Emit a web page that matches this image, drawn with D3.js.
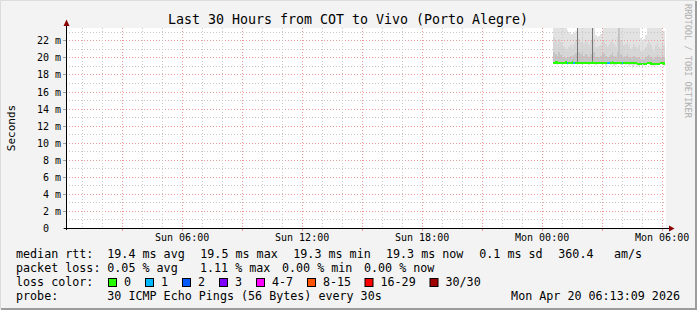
<!DOCTYPE html>
<html>
<head>
<meta charset="utf-8">
<script src="https://cdn.jsdelivr.net/npm/d3@7"></script>
<style>
  body { margin: 0; background: #f3f3f3; }
  svg text { font-family: "DejaVu Sans Mono", monospace; white-space: pre; }
</style>
</head>
<body>
<svg id="chart" width="697" height="310"></svg>
<script>
// ---- data ----
const title = "Last 30 Hours from COT to Vivo (Porto Alegre)";
const yTicks = [0, 2, 4, 6, 8, 10, 12, 14, 16, 18, 20, 22];
const timeLabels = ["Sun 06:00", "Sun 12:00", "Sun 18:00", "Mon 00:00", "Mon 06:00"];

// 5 minute samples, first one Mon 00:35
const median = [19.40,19.42,19.42,19.40,19.40,19.38,19.40,19.42,19.40,19.38,19.40,19.42,19.40,19.40,
  19.38,19.40,19.40,19.42,19.40,19.40,19.38,19.40,19.40,19.42,19.40,19.38,19.40,19.40,
  19.40,19.42,19.40,19.38,19.38,19.40,19.40,19.42,19.40,19.40,19.38,19.40,19.40,19.38,
  19.40,19.40,19.38,19.40,19.40,19.38,19.36,19.36,19.28,19.26,19.25,19.26,19.25,19.28,
  19.34,19.35,19.32,19.25,19.24,19.25,19.26,19.24,19.34,19.35,19.30];
const loss = [0,0,0,0,0,0,0,0,1,0,0,0,1,0,0,0,0,0,0,0,0,0,0,0,0,0,0,0,0,0,0,0,1,1,0,0,0,0,0,0,0,1,
  0,0,0,0,0,0,0,0,0,0,0,0,0,0,0,0,0,0,0,0,0,0,0,0,0];
const pingLo = [19.2,19.2,19.1,19.2,19.2,19.1,19.2,19.2,19.1,19.2,19.2,19.1,19.2,19.2,
  19.1,19.2,19.2,19.1,19.2,19.2,19.2,19.1,19.2,19.2,19.2,19.1,19.2,19.2,
  19.2,19.1,19.2,19.0,19.2,19.2,19.1,19.2,19.0,19.1,19.2,19.2,19.1,19.2,
  19.2,19.1,19.2,19.0,19.1,18.8,19.0,19.1,19.0,19.0,19.1,19.0,19.1,19.1,
  19.2,19.2,19.1,19.1,19.0,19.1,19.1,19.1,19.2,19.2,19.1];
const pingHi = [23.5,23.5,23.5,23.5,23.5,23.5,23.5,23.5,23.2,23.0,22.8,22.7,22.9,23.1,
  23.5,23.5,23.5,23.5,23.5,23.5,23.5,23.5,23.5,23.5,23.5,22.6,22.4,22.5,
  22.7,23.0,23.5,23.5,23.5,23.5,23.5,23.5,23.5,23.5,23.5,23.5,23.5,23.5,
  23.5,23.5,23.5,23.5,23.5,23.5,23.5,23.5,23.5,23.5,22.3,22.1,22.2,22.6,
  23.5,23.5,23.5,23.5,23.5,23.5,23.5,23.5,23.5,23.0,23.1];
const pingQ9 = [22.4,22.0,21.6,22.2,21.8,21.4,21.2,21.0,20.8,21.2,21.4,21.0,21.6,22.0,
  23.5,22.2,21.8,22.4,21.6,22.0,21.8,21.4,22.0,23.5,22.2,21.2,21.0,21.3,
  21.5,21.8,22.0,21.6,21.2,21.4,21.8,22.2,21.6,21.2,22.4,23.5,22.0,21.8,
  21.4,21.6,22.0,21.4,21.0,21.2,21.6,21.2,21.0,21.4,20.8,20.6,20.9,21.2,
  21.6,21.8,21.4,21.0,20.8,21.4,21.8,21.2,21.0,21.6,21.4];
const pingQ3 = [20.6,20.4,20.2,20.6,20.3,20.1,20.0,19.9,19.9,20.1,20.2,20.0,20.3,20.5,
  23.5,20.6,20.4,20.8,20.2,20.4,20.3,20.1,20.4,23.5,20.6,20.0,19.9,20.0,
  20.2,20.4,20.5,20.2,20.0,20.1,20.3,20.6,20.2,20.0,20.6,23.5,20.4,20.3,
  20.1,20.2,20.4,20.0,19.9,20.0,20.2,20.0,19.9,20.1,19.8,19.7,19.8,20.0,
  20.2,20.3,20.1,19.9,19.8,20.1,20.3,20.0,19.9,20.2,20.1];
const pingQ5 = [19.5,19.5,19.5,19.5,19.5,19.5,19.5,19.5,19.5,19.5,19.5,19.5,19.5,19.5,
  23.5,19.5,19.5,19.5,19.5,19.5,19.5,19.5,19.5,23.5,19.5,19.5,19.5,19.5,
  19.5,19.5,19.5,19.5,19.5,19.5,19.5,19.5,19.5,19.5,19.5,19.5,19.5,19.5,
  19.5,19.5,19.5,19.5,19.5,19.5,19.4,19.4,19.3,19.3,19.3,19.3,19.3,19.3,
  19.4,19.4,19.4,19.3,19.3,19.3,19.3,19.3,19.4,19.4,19.4];

const rttStats = ["median rtt:", "19.4 ms avg", "19.5 ms max", "19.3 ms min", "19.3 ms now", "0.1 ms sd", "360.4", "am/s"];
const lossStats = ["packet loss:", "0.05 % avg", "1.11 % max", "0.00 % min", "0.00 % now"];
const lossLabels = ["0", "1", "2", "3", "4-7", "8-15", "16-29", "30/30"];
const lossColors = ["#26ff00", "#00b8ff", "#0059ff", "#7e00ff", "#ff00ff", "#ff5500", "#ff0000", "#a10000"];
const probeText = ["probe:", "30 ICMP Echo Pings (56 Bytes) every 30s", "Mon Apr 20 06:13:09 2026"];

// ---- layout ----
const W = 697, H = 310;
const endTime = new Date(2026, 3, 20, 6, 13, 9);
const startTime = d3.timeHour.offset(endTime, -30);
const firstSample = new Date(2026, 3, 20, 0, 35);
const step = 5; // minutes

const x = d3.scaleTime().domain([startTime, endTime]).range([66, 666]);
const y = d3.scaleLinear().domain([0, 23.45]).range([228, 28]);

const svg = d3.select("#chart");

// frame
svg.append("rect").attr("width", W).attr("height", H).attr("fill", "#f3f3f3");
svg.append("path").attr("d", `M0.5,${H - 1}V0.5H${W - 1}`).attr("stroke", "#dcdcdc").attr("fill", "none");
svg.append("path").attr("d", `M1,${H - 1}H${W - 1}V1`).attr("stroke", "#9c9c9c").attr("stroke-width", 2).attr("fill", "none");

// canvas
svg.append("rect").attr("x", 66).attr("y", 28).attr("width", 600).attr("height", 200).attr("fill", "#fff");

svg.append("text")
    .attr("x", 348).attr("y", 23.5)
    .attr("text-anchor", "middle")
    .attr("font-size", "13.3px")
    .text(title);

// smoke
const samples = median.map((m, i) => {
    const t0 = d3.timeMinute.offset(firstSample, i * step);
    const t1 = d3.timeMinute.offset(firstSample, (i + 1) * step);
    return { t0, t1, m, lo: pingLo[i], hi: pingHi[i], q9: pingQ9[i], q3: pingQ3[i], q5: pingQ5[i], loss: loss[i] };
});

const lossColor = n => {
    if (n === 0) return lossColors[0];
    if (n <= 3) return lossColors[n];
    if (n <= 7) return lossColors[4];
    if (n <= 15) return lossColors[5];
    if (n <= 29) return lossColors[6];
    return lossColors[7];
};

const clipTop = v => Math.min(v, 23.45);
const smoke = svg.append("g").attr("shape-rendering", "crispEdges");
const bands = [
    { lo: d => d.lo, hi: d => d.hi, fill: "#e2e2e2" },
    { lo: d => d.m, hi: d => d.q9, fill: "#d6d6d6" },
    { lo: d => d.m, hi: d => d.q3, fill: "#c4c4c4" },
    { lo: d => d.m, hi: d => d.q5, fill: "#777777" }
];
bands.forEach(b => {
    smoke.selectAll(null)
        .data(samples)
        .enter().append("rect")
        .attr("x", d => x(d.t0))
        .attr("width", d => x(d.t1) - x(d.t0))
        .attr("y", d => y(clipTop(b.hi(d))))
        .attr("height", d => Math.max(0, y(b.lo(d)) - y(clipTop(b.hi(d)))))
        .attr("fill", b.fill);
});

// median line coloured by loss
smoke.selectAll(null)
    .data(samples)
    .enter().append("rect")
    .attr("x", d => x(d.t0))
    .attr("width", d => x(d.t1) - x(d.t0))
    .attr("y", d => y(d.m) - 1)
    .attr("height", 2.4)
    .attr("fill", d => lossColor(d.loss));

// grid
const grid = svg.append("g").attr("fill", "none").attr("stroke-dasharray", "1,2");
d3.range(1, 24).forEach(v => {
    grid.append("line")
        .attr("x1", 66).attr("x2", 666)
        .attr("y1", Math.round(y(v)) + 0.5).attr("y2", Math.round(y(v)) + 0.5)
        .attr("stroke", v % 2 === 0 ? "#eb9a9a" : "#c8c8c8");
});
const hours = d3.timeHour.range(d3.timeHour.ceil(startTime), endTime);
hours.forEach(h => {
    const major = h.getHours() % 3 === 0;
    const px = Math.round(x(h)) + 0.5;
    grid.append("line")
        .attr("x1", px).attr("x2", px)
        .attr("y1", 28).attr("y2", 228)
        .attr("stroke", major ? "#eb9a9a" : "#c8c8c8");
    if (major) {
        svg.append("line")
            .attr("x1", px).attr("x2", px).attr("y1", 228).attr("y2", 231)
            .attr("stroke", "#eb9a9a");
    }
});

// y labels and ticks
yTicks.forEach(v => {
    const py = Math.round(y(v)) + 0.5;
    svg.append("line")
        .attr("x1", 63).attr("x2", 66).attr("y1", py).attr("y2", py)
        .attr("stroke", "#a0a0a0");
    svg.append("text")
        .attr("x", 61).attr("y", py + 3.5)
        .attr("text-anchor", "end")
        .attr("font-size", "10px")
        .text(v === 0 ? "0  " : v + " m");
});

// x labels
const fmt = d3.timeFormat("%a %H:%M");
hours.filter(h => h.getHours() % 6 === 0).forEach((h, i) => {
    svg.append("text")
        .attr("x", x(h) + 0.5).attr("y", 241)
        .attr("text-anchor", "middle")
        .attr("font-size", "10px")
        .text(timeLabels[i] || fmt(h));
});

// axes with arrows
svg.append("line").attr("x1", 66.5).attr("x2", 66.5).attr("y1", 230).attr("y2", 24).attr("stroke", "#000");
svg.append("line").attr("x1", 64).attr("x2", 670).attr("y1", 228.5).attr("y2", 228.5).attr("stroke", "#000");
svg.append("path").attr("d", "M63.5,26L66.5,19.5L69.5,26Z").attr("fill", "#8b0000");
svg.append("path").attr("d", "M669,225.5L674.5,228.5L669,231.5Z").attr("fill", "#8b0000");

// y axis title
svg.append("text")
    .attr("transform", "translate(14.5,128) rotate(-90)")
    .attr("text-anchor", "middle")
    .attr("font-size", "11px")
    .text("Seconds");

// watermark
svg.append("text")
    .attr("transform", "translate(685,4) rotate(90)")
    .attr("font-size", "8.6px")
    .attr("fill", "#b0b0b0")
    .text("RRDTOOL / TOBI OETIKER");

// legend
const legend = svg.append("g").attr("font-size", "11.7px");
const rttX = [16, 107.3, 200.3, 293.3, 386, 479.3, 558.3, 614];
rttStats.forEach((s, i) => legend.append("text").attr("x", rttX[i]).attr("y", 257.5).text(s));
const lossX = [16, 107.3, 200, 282, 364];
lossStats.forEach((s, i) => legend.append("text").attr("x", lossX[i]).attr("y", 271.5).text(s));

legend.append("text").attr("x", 16).attr("y", 285.5).text("loss color:");
const boxX = [108.5, 145.5, 182.5, 219.5, 256.5, 307.5, 365, 430];
lossLabels.forEach((s, i) => {
    legend.append("rect")
        .attr("x", boxX[i]).attr("y", 278.5).attr("width", 8).attr("height", 8)
        .attr("fill", lossColors[i]).attr("stroke", "#000");
    legend.append("text").attr("x", boxX[i] + 15.5).attr("y", 285.5).text(s);
});

legend.append("text").attr("x", 16).attr("y", 299.5).text(probeText[0]);
legend.append("text").attr("x", 107.3).attr("y", 299.5).text(probeText[1]);
legend.append("text").attr("x", 680).attr("y", 299.5).attr("text-anchor", "end").text(probeText[2]);
</script>
</body>
</html>
